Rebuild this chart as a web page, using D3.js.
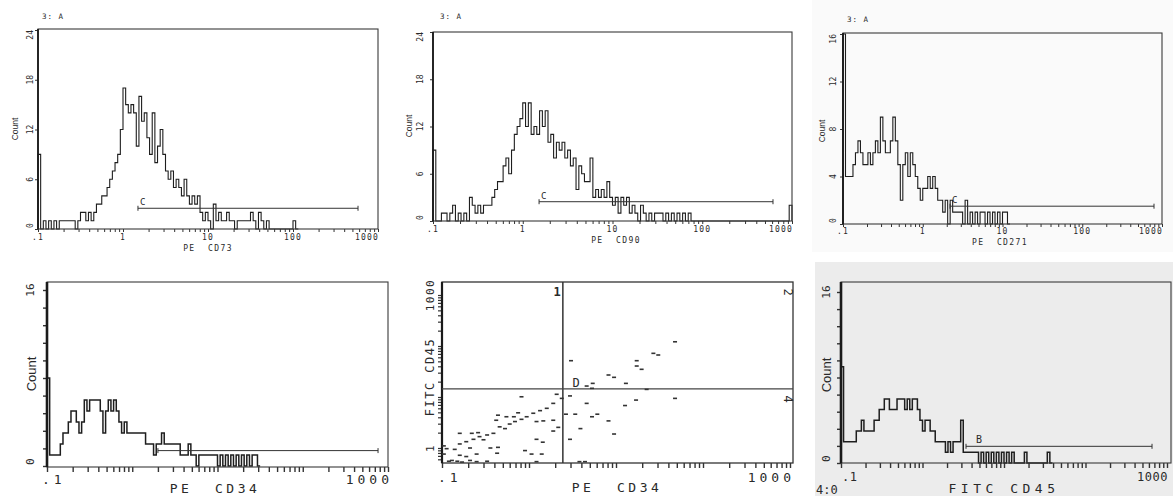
<!DOCTYPE html>
<html><head><meta charset="utf-8">
<script src="https://cdn.jsdelivr.net/npm/d3@7"></script>
<style>
body{margin:0;background:#fff;}
svg{display:block;}
text{font-family:"DejaVu Sans Mono",monospace;fill:#2a2a2a;}
</style></head><body>
<svg id="chart" width="1173" height="496"></svg>
<script>
// ---------------- DATA ----------------
const binsPerDecade = 32;          // histogram channels per decade
const axisMin = 0.1;               // first channel starts at .1
const topXTickValues = [0.1, 1, 10, 100, 1000];
const topXTickLabels = [".1", "1", "10", "100", "1000"];
const bottomXTickValues = [0.1, 1000];
const bottomXTickLabels = [".1", "1000"];
const countTicks24 = [0, 6, 12, 18, 24];
const countTicks16 = [0, 4, 8, 12, 16];
const countTicksBottom = [0, 1.6, 3.2, 4.8, 6.4, 8, 9.6, 11.2, 12.8, 14.4, 16];
const countLabelsBottom = [0, 16];
const scatterYLabelValues = [1, 1000];

const cd73Counts = [9,0,1,0,1,0,1,0,1,1, 1,1,1,1,0,1,2,2,1,2, 1,2,3,3,4,4,5,6,7,8,
  9,12,17,15,14,15,14,10,16,13, 14,11,9,14,8,10,12,9,7,6, 7,5,6,5,4,6,4,3,4,3,
  4,2,1,2,1,0,3,1,2,1, 1,2,1,1,0,1,1,1,1,1, 2,1,0,2,1,0,1,0,0,0, 0,0,0,0,0,0,1,0];
const cd90Counts = [9,0,0,1,1,0,1,2,0,1, 0,1,0,3,2,1,2,1,2,2, 2,3,4,5,5,7,8,6,9,11,
  12,13,15,12,15,11,12,11,14,12, 14,10,11,8,10,9,10,8,9,7, 8,4,7,6,5,5,8,3,4,3,
  4,3,5,3,2,3,1,3,2,3, 1,2,1,0,2,1,0,1,0,1, 1,1,0,1,0,1,0,1,0,1, 0,1,0,
  0,0,0,0,0,0,0,0,0,0, 0,0,0,0,0,0,0,0,0,0, 0,0,0,0,0,0,0,0,0,0, 0,0,0,0, 2];
const cd271Counts = [16,4,4,4,5,6,7,6,5,5, 6,5,6,7,6,9,7,6,6,7, 9,7,5,2,5,6,4,6,5,4,
  3,2,3,3,4,3,4,3,2,2, 1,2,0,2,1,1,1,1,0,2, 0,1,0,1,0,1,1,0,1,0, 1,0,1,0,1,1,0];
const cd34Counts = [8,1,1,1,1,2,3,3,4,5, 5,4,3,4,6,5,6,6,6,6, 5,3,5,6,5,6,5,4,3,4,
  3,3,3,3,3,3,3,2,2,2, 1,2,2,3,2,2,2,2,2,2, 1,1,1,2,1,1,0,1,1,1, 1,1,1,1,0,1,0,1,0,1,
  0,1,0,1,0,1,0,1,1,0];
const cd45Counts = [9,2,2,2,2,2,3,3,4,3, 3,3,3,4,4,5,5,6,6,5, 5,5,6,6,6,5,6,5,6,6,
  5,4,3,4,4,3,3,2,2,2, 2,1,2,1,2,2,2,4,1,1, 1,1,1,1,0,1,0,1,0,1, 0,1,0,1,0,1,0,1,0,0,
  0,0,1,0,0,0,0,0,0,0, 0,1,0];

// marker gates: [start, end, count level]
const gateCD73 = [1.5, 582, 2.5];
const gateCD90 = [1.52, 614, 2.45];
const gateCD271 = [2.2, 794, 1.5];
const gateCD34 = [2.0, 764, 1.4];
const gateCD45 = [3.42, 655, 1.56];

// dot plot: PE CD34 (x) vs FITC CD45 (y)
const scatterPE = [47.7,26.9,30.6,17.3,17.3,19.7,8.2,9.5,13,5.4,4.6,5.3,3.04,22.5,
  47.7,17,12.7,4.6,2.66,3.4,5.3,6.1,8.2,3.9,2.96,9.5,2.96,3.8,4.4,
  0.82,2.08,2.38,1.9,1.6,1.34,1.12,0.94,0.82,0.69,0.6,0.53,0.46,0.39,0.33,0.27,0.23,0.19,0.16,0.14,0.113,
  1.22,1.46,1.9,1.9,2.17,1.22,1.44,0.9,1.07,1.4,1.22,0.43,0.44,0.36,0.25,0.21,0.19,0.16,0.16,0.22,0.26,0.3,
  0.42,0.44,0.55,0.67,0.75,0.12,0.13,0.15,0.17,0.21,0.25,0.33,0.105,0.105];
const scatterFITC = [121,71.8,66.6,51.5,40.5,34.9,27,24.3,18.5,18.5,16.4,14.8,51.5,14.1,
  9.4,8.7,6.8,7.5,4.6,4.6,4.1,4.6,3.4,2.4,1.48,1.88,10.5,0.54,0.54,
  10.1,11.3,9.4,7.5,6,5.4,4.8,4.1,3.65,3.3,2.95,2.4,2.6,1.94,1.8,1.67,1.48,1.33,1.2,0.94,0.97,
  3.3,3.4,3.5,2.15,2.54,1.48,1.3,0.89,0.76,0.76,0.54,0.79,1.03,1,0.76,1,0.68,0.72,1.94,1.94,2,1.45,
  3.5,4.4,4.1,4.1,4.9,0.55,0.57,0.55,0.53,0.57,0.54,0.55,0.76,1.1];
const quadPE = 2.45, quadFITC = 14.4;
const quadLabels = ["1", "2", "4", "D"];

// ---------------- DRAWING ----------------
const svg = d3.select("#chart");
// scanned paper tints
svg.append("rect").attr("x",812).attr("y",0).attr("width",361).attr("height",252).attr("fill","#fafafa");
svg.append("rect").attr("x",815).attr("y",262).attr("width",358).attr("height",234).attr("fill","#ececec");

function rotText(g, s, cx, cy, size, anchor, extra) {
  const t = g.append("text").attr("transform", `translate(${cx},${cy}) rotate(-90)`)
    .attr("text-anchor", anchor).attr("dy", "0.35em").attr("font-size", size).text(s);
  if (extra) extra(t);
  return t;
}

function drawHist(o) {
  const g = svg.append("g");
  const x = d3.scaleLog().domain([0.1, 1000]).range([o.xl, o.xr]);
  const y = d3.scaleLinear().domain([0, o.yMax]).range([o.y0, o.y1]);
  // ticks
  const xa = g.append("g").attr("transform", `translate(0,${o.fb})`)
    .call(d3.axisBottom(x).tickValues(x.ticks()).tickSize(o.xTick).tickFormat(""));
  xa.select(".domain").remove();
  xa.selectAll("line").attr("stroke", "#333").attr("stroke-width", o.tickW);
  const ya = g.append("g").attr("transform", `translate(${o.fl},0)`)
    .call(d3.axisLeft(y).tickValues(o.yTicks).tickSize(o.yTick).tickFormat(""));
  ya.select(".domain").remove();
  ya.selectAll("line").attr("stroke", "#333").attr("stroke-width", o.tickW);
  // histogram
  const edge = i => Math.min(1000, axisMin * Math.pow(10, i / binsPerDecade));
  const pts = [[edge(0), 0]];
  o.counts.forEach((c, i) => pts.push([edge(i), c]));
  pts.push([edge(o.counts.length), o.counts[o.counts.length - 1]]);
  pts.push([edge(o.counts.length), 0]);
  g.append("path").attr("d", d3.line().x(d => x(d[0])).y(d => y(d[1])).curve(d3.curveStepAfter)(pts))
    .attr("fill", "none").attr("stroke", "#1e1e1e").attr("stroke-width", o.histW).attr("stroke-linejoin", "miter");
  // frame
  g.append("rect").attr("x", o.fl).attr("y", o.ft).attr("width", o.fr - o.fl).attr("height", o.fb - o.ft)
    .attr("fill", "none").attr("stroke", "#3a3a3a").attr("stroke-width", 1.1);
  g.append("line").attr("x1", o.fl).attr("x2", o.fl).attr("y1", o.ft).attr("y2", o.fb)
    .attr("stroke", "#1a1a1a").attr("stroke-width", o.leftW);
  // gate
  const gy = y(o.gate[2]);
  const gg = g.append("g").attr("stroke", "#333").attr("stroke-width", 1);
  gg.append("line").attr("x1", x(o.gate[0])).attr("x2", x(o.gate[1])).attr("y1", gy).attr("y2", gy);
  gg.append("line").attr("x1", x(o.gate[0])).attr("x2", x(o.gate[0])).attr("y1", gy - 2.5).attr("y2", gy + 2.5);
  gg.append("line").attr("x1", x(o.gate[1])).attr("x2", x(o.gate[1])).attr("y1", gy - 2.5).attr("y2", gy + 2.5);
  if (o.gateLabel) g.append("text").attr("x", x(o.gate[0]) + o.gateLabDx).attr("y", gy - 3)
    .attr("font-size", o.gateLabSize).text(o.gateLabel);
  // x tick labels
  o.xLabVals.forEach((v, i) => {
    const last = i === o.xLabVals.length - 1;
    const first = i === 0;
    g.append("text").attr("x", x(v) + (last ? o.lastDx : (first ? o.firstDx : 0))).attr("y", o.tickLabY)
      .attr("text-anchor", last ? "end" : (first && o.firstStart ? "start" : "middle"))
      .attr("font-size", o.tickSize).attr("letter-spacing", o.tickLS).text(o.xLabs[i]);
  });
  // x title
  g.append("text").attr("x", o.xTitleX).attr("y", o.xTitleY).attr("text-anchor", "middle")
    .attr("font-size", o.xTitleSize).attr("letter-spacing", o.xTitleLS).attr("xml:space", "preserve").text(o.xTitle);
  // y labels
  o.yLabs.forEach((v, i) => {
    const n = o.yLabs.length;
    let anchor = "middle", cy = y(v);
    if (i === 0) { anchor = "start"; cy -= 1; }
    else if (i === n - 1 && o.topEnd) { anchor = "end"; }
    rotText(g, String(v), o.yLabX, cy, o.yLabSize, anchor);
  });
  rotText(g, "Count", o.countX, o.countY, o.countSize, "middle",
    t => t.style("font-family", "'Liberation Sans',Arial,sans-serif"));
  if (o.title) g.append("text").attr("x", o.titleX).attr("y", o.titleY).attr("font-size", 7.5)
    .attr("letter-spacing", 1).attr("xml:space", "preserve").text(o.title);
}

const topCommon = { xTick: 3, yTick: 3, tickW: 1, histW: 1.1, leftW: 1.8, tickSize: 8, tickLS: 1.2,
  xTitleSize: 8, xTitleLS: 1.4, yLabSize: 8, countSize: 8.5, gateLabSize: 9, gateLabDx: 2, topEnd: true,
  xLabVals: topXTickValues, xLabs: topXTickLabels, lastDx: 1, firstDx: 0 };

drawHist(Object.assign({}, topCommon, { counts: cd73Counts, xl: 38, xr: 378, fl: 38, fr: 378, ft: 29, fb: 229,
  y0: 229, y1: 30, yMax: 24, yTicks: countTicks24, yLabs: countTicks24, gate: gateCD73, gateLabel: "C",
  tickLabY: 240, xTitle: "PE  CD73", xTitleX: 208, xTitleY: 250.5, yLabX: 30, countX: 15, countY: 129,
  title: "3: A", titleX: 42, titleY: 18.5 }));
drawHist(Object.assign({}, topCommon, { counts: cd90Counts, xl: 433, xr: 792, fl: 433, fr: 792, ft: 32, fb: 221,
  y0: 221, y1: 32, yMax: 24, yTicks: countTicks24, yLabs: countTicks24, gate: gateCD90, gateLabel: "C",
  tickLabY: 232, xTitle: "PE  CD90", xTitleX: 616, xTitleY: 243, yLabX: 420, countX: 409, countY: 126,
  title: "3: A", titleX: 440, titleY: 18.5 }));
drawHist(Object.assign({}, topCommon, { counts: cd271Counts, xl: 843, xr: 1162, fl: 843, fr: 1162, ft: 33, fb: 224,
  y0: 224, y1: 34, yMax: 16, yTicks: countTicks16, yLabs: countTicks16, gate: gateCD271, gateLabel: "C",
  tickLabY: 234, xTitle: "PE  CD271", xTitleX: 1000, xTitleY: 244.5, yLabX: 833, countX: 822, countY: 131,
  title: "3: A", titleX: 847, titleY: 22 }));

const botCommon = { xTick: 5, yTick: 4, tickW: 1.4, histW: 1.5, leftW: 2.6, tickSize: 13, tickLS: 4,
  xTitleSize: 13, xTitleLS: 3.5, yLabSize: 11, countSize: 13, gateLabSize: 10, gateLabDx: 10, topEnd: false,
  xLabVals: bottomXTickValues, xLabs: bottomXTickLabels, yTicks: countTicksBottom, yLabs: countLabelsBottom,
  yMax: 16, firstStart: true };

drawHist(Object.assign({}, botCommon, { counts: cd34Counts, xl: 47, xr: 388, fl: 47, fr: 388, ft: 282, fb: 467,
  y0: 466, y1: 290, gate: gateCD34, gateLabel: null, tickLabY: 484, lastDx: 5, firstDx: -5,
  xTitle: "PE  CD34", xTitleX: 215, xTitleY: 493, yLabX: 30, countX: 31, countY: 374 }));
drawHist(Object.assign({}, botCommon, { counts: cd45Counts, xl: 841, xr: 1167, fl: 841, fr: 1171, ft: 282, fb: 463,
  y0: 463, y1: 292, gate: gateCD45, gateLabel: "B", tickLabY: 481, lastDx: 1, firstDx: 1,
  tickSize: 12, tickLS: 0.5, xTitle: "FITC CD45", xTitleX: 1004, xTitleY: 493, xTitleLS: 4.5,
  yLabX: 826, countX: 826, countY: 375 }));

// ---- dot plot ----
(function () {
  const g = svg.append("g");
  const fl = 442, fr = 793, ft = 282, fb = 463;
  const x = d3.scaleLog().domain([0.1, 1000]).range([442, 790]);
  const y = d3.scaleLog().domain([1, 1000]).range([448, 295]);
  const yTickScale = d3.scaleLog().domain([0.55, 1800]);
  const xa = g.append("g").attr("transform", `translate(0,${fb})`)
    .call(d3.axisBottom(x).tickValues(x.ticks()).tickSize(5).tickFormat(""));
  xa.select(".domain").remove();
  xa.selectAll("line").attr("stroke", "#333").attr("stroke-width", 1.4);
  const ya = g.append("g").attr("transform", `translate(${fl},0)`)
    .call(d3.axisLeft(y).tickValues(yTickScale.ticks()).tickSize(4).tickFormat(""));
  ya.select(".domain").remove();
  ya.selectAll("line").attr("stroke", "#333").attr("stroke-width", 1.2);
  // frame + quadrants
  g.append("rect").attr("x", fl).attr("y", ft).attr("width", fr - fl).attr("height", fb - ft)
    .attr("fill", "none").attr("stroke", "#333").attr("stroke-width", 1.3);
  g.append("line").attr("x1", fl).attr("x2", fl).attr("y1", ft).attr("y2", fb).attr("stroke", "#1a1a1a").attr("stroke-width", 2.2);
  g.append("line").attr("x1", x(quadPE)).attr("x2", x(quadPE)).attr("y1", ft).attr("y2", fb).attr("stroke", "#333").attr("stroke-width", 1.5);
  g.append("line").attr("x1", fl).attr("x2", fr).attr("y1", y(quadFITC)).attr("y2", y(quadFITC)).attr("stroke", "#444").attr("stroke-width", 1.1);
  // events
  g.selectAll("rect.ev").data(scatterPE.map((v, i) => [v, scatterFITC[i]])).join("rect").attr("class", "ev")
    .attr("x", d => x(d[0]) - 2).attr("y", d => y(d[1]) - 0.8).attr("width", 4).attr("height", 1.6).attr("fill", "#333");
  // quadrant labels
  g.append("text").attr("x", 557).attr("y", 296).attr("text-anchor", "middle").attr("font-size", 12).attr("font-weight", "bold").text(quadLabels[0]);
  rotText(g, quadLabels[1], 788, 292, 12, "middle", t => t.attr("transform", "translate(788,292) rotate(90)"));
  rotText(g, quadLabels[2], 788, 399, 12, "middle", t => t.attr("transform", "translate(788,399) rotate(90)"));
  g.append("text").attr("x", 576).attr("y", 387).attr("text-anchor", "middle").attr("font-size", 12).text(quadLabels[3]);
  // axis labels
  g.append("text").attr("x", x(0.1) - 4).attr("y", 482).attr("font-size", 13).attr("letter-spacing", 4).text(bottomXTickLabels[0]);
  g.append("text").attr("x", x(1000) + 5).attr("y", 482).attr("text-anchor", "end").attr("font-size", 13).attr("letter-spacing", 4).text(bottomXTickLabels[1]);
  g.append("text").attr("x", 617).attr("y", 492).attr("text-anchor", "middle").attr("font-size", 13).attr("letter-spacing", 3.5)
    .attr("xml:space", "preserve").text("PE  CD34");
  scatterYLabelValues.forEach(v => rotText(g, String(v), 430, y(v), 11, "middle", t => t.attr("letter-spacing", 1.5)));
  rotText(g, "FITC CD45", 430, 377, 12, "middle", t => t.attr("letter-spacing", 1.5));
})();

// sample tag at bottom edge
svg.append("text").attr("x", 816).attr("y", 494).attr("font-size", 12).attr("fill", "#333").text("4:0");
</script>
</body></html>
